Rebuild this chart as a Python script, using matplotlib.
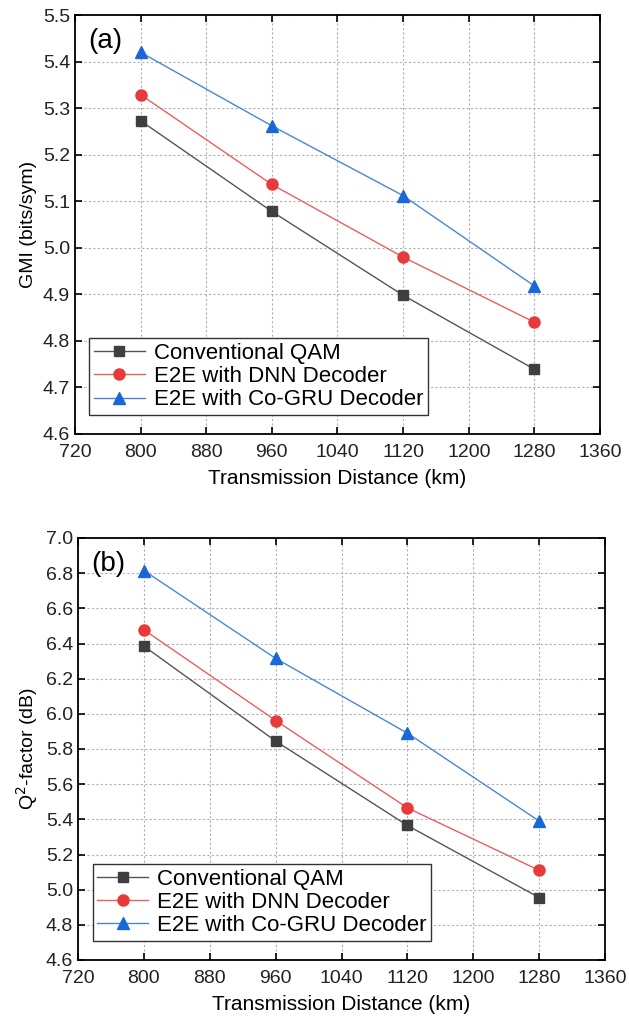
import matplotlib
matplotlib.use('Agg')
import matplotlib.pyplot as plt
from matplotlib.ticker import MultipleLocator, FormatStrFormatter

plt.rcParams['font.family'] = ['Liberation Sans', 'DejaVu Sans']

# ── DATA ──────────────────────────────────────────────────────
distance = [800, 960, 1120, 1280]
labels = ["Conventional QAM", "E2E with DNN Decoder", "E2E with Co-GRU Decoder"]

gmi_qam = [5.273, 5.078, 4.898, 4.739]
gmi_dnn = [5.329, 5.136, 4.980, 4.840]
gmi_gru = [5.420, 5.262, 5.112, 4.918]

q2_qam = [6.385, 5.845, 5.365, 4.955]
q2_dnn = [6.478, 5.962, 5.465, 5.110]
q2_gru = [6.815, 6.315, 5.890, 5.390]

# ── STYLE ─────────────────────────────────────────────────────
styles = [
    dict(marker='s', mc='#3f3f3f', lc='#555555', ms=7),
    dict(marker='o', mc='#e83a3a', lc='#e86060', ms=8),
    dict(marker='^', mc='#1a68d8', lc='#4a86d8', ms=8),
]

fig = plt.figure(figsize=(6.29, 10.19), dpi=100)
ax_a = fig.add_axes([0.119, 1 - 434/1019, 0.835, (434 - 15)/1019])
ax_b = fig.add_axes([0.124, 1 - 960/1019, 0.838, (960 - 538)/1019])


def draw(ax, series, ylim, ystep, ylabel, tag):
    for vals, lab, st in zip(series, labels, styles):
        ax.plot(distance, vals, color=st['lc'], lw=1.0,
                marker=st['marker'], ms=st['ms'], mfc=st['mc'], mec=st['mc'],
                label=lab)
    ax.set_xlim(720, 1360)
    ax.set_ylim(*ylim)
    ax.xaxis.set_major_locator(MultipleLocator(80))
    ax.yaxis.set_major_locator(MultipleLocator(ystep))
    ax.yaxis.set_major_formatter(FormatStrFormatter('%.1f'))
    ax.grid(True, ls=(0, (2, 2)), color='#b0b0b0', lw=0.8)
    ax.tick_params(direction='in', top=True, right=True, length=5,
                   width=1.2, labelsize=14, labelcolor='#222222')
    ax.tick_params(axis='x', pad=7)
    for s in ax.spines.values():
        s.set_linewidth(1.3)
    ax.set_xlabel("Transmission Distance (km)", fontsize=15, labelpad=6)
    ax.set_ylabel(ylabel, fontsize=14)
    ax.text(0.025, 0.97, tag, transform=ax.transAxes, fontsize=20,
            va='top', ha='left')
    leg = ax.legend(loc='lower left', bbox_to_anchor=(0.015, 0.03),
                    fontsize=16, frameon=True, fancybox=False,
                    edgecolor='#333333', framealpha=1, borderpad=0.2,
                    labelspacing=0.1, handlelength=2.3, handletextpad=0.4,
                    borderaxespad=0.3)
    leg.get_frame().set_linewidth(1.0)


draw(ax_a, [gmi_qam, gmi_dnn, gmi_gru], (4.6, 5.5), 0.1,
     "GMI (bits/sym)", "(a)")
draw(ax_b, [q2_qam, q2_dnn, q2_gru], (4.6, 7.0), 0.2,
     "Q$^2$-factor (dB)", "(b)")

plt.savefig("out.png", dpi=100)
